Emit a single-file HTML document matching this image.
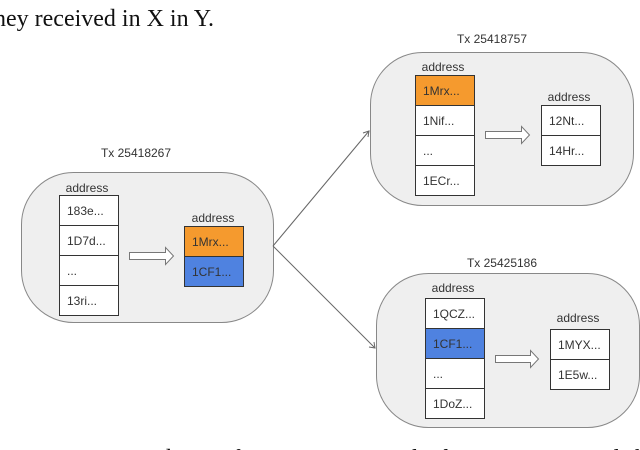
<!DOCTYPE html>
<html><head><style>
html,body{margin:0;padding:0;background:#fff;width:640px;height:450px;overflow:hidden}
svg{display:block}
.s{font-family:"Liberation Sans",sans-serif;font-size:12px;fill:#333}
.c{font-family:"Liberation Serif",serif;font-size:24px;fill:#111}
</style></head><body>
<svg width="640" height="450" viewBox="0 0 640 450">
<text class="c" x="-6" y="26">ney received in X in Y.</text>
<text class="c" x="31" y="466">Figure 2: A subtree of Transaction Graph: the transaction on left</text>

<g stroke="#888" stroke-width="1" fill="#efefef">
<rect x="21.5" y="172.5" width="252" height="150" rx="52" ry="52"/>
<rect x="370.5" y="52.5" width="263" height="153" rx="52" ry="52"/>
<rect x="376.5" y="273.5" width="263" height="154" rx="52" ry="52"/>
</g>

<g stroke="#666" stroke-width="1" fill="none">
<line x1="273" y1="246" x2="369" y2="131"/>
<polyline points="363,133 369,131 368,137"/>
<line x1="273" y1="246" x2="375" y2="348"/>
<polyline points="369,347 375,348 374,342"/>
</g>

<g class="s" text-anchor="middle">
<text x="136" y="157">Tx 25418267</text>
<text x="492" y="43">Tx 25418757</text>
<text x="502" y="267">Tx 25425186</text>
<text x="87" y="192">address</text>
<text x="213" y="222">address</text>
<text x="443" y="71">address</text>
<text x="569" y="101">address</text>
<text x="453" y="292">address</text>
<text x="578" y="322">address</text>
</g>

<g stroke="#333" stroke-width="1">
<rect x="59.5" y="195.5" width="59" height="120" fill="#fff"/>
<line x1="59" y1="225.5" x2="118" y2="225.5"/><line x1="59" y1="255.5" x2="118" y2="255.5"/><line x1="59" y1="285.5" x2="118" y2="285.5"/>
<rect x="184.5" y="226.5" width="59" height="30" fill="#f59a2e"/>
<rect x="184.5" y="256.5" width="59" height="30" fill="#4f82e0"/>
<rect x="415.5" y="75.5" width="59" height="120" fill="#fff"/>
<rect x="415.5" y="75.5" width="59" height="30" fill="#f59a2e"/>
<line x1="415" y1="135.5" x2="474" y2="135.5"/><line x1="415" y1="165.5" x2="474" y2="165.5"/>
<rect x="541.5" y="105.5" width="59" height="60" fill="#fff"/>
<line x1="541" y1="135.5" x2="600" y2="135.5"/>
<rect x="425.5" y="298.5" width="59" height="120" fill="#fff"/>
<rect x="425.5" y="328.5" width="59" height="30" fill="#4f82e0"/>
<line x1="425" y1="388.5" x2="484" y2="388.5"/>
<rect x="550.5" y="329.5" width="59" height="60" fill="#fff"/>
<line x1="550" y1="359.5" x2="609" y2="359.5"/>
</g>

<g fill="#fff" stroke="#777" stroke-width="1">
<polygon points="129.5,252.5 165.5,252.5 165.5,247.5 173.5,256 165.5,264.5 165.5,259.5 129.5,259.5"/>
<polygon points="485.5,131.5 521.5,131.5 521.5,126.5 529.5,135 521.5,143.5 521.5,138.5 485.5,138.5"/>
<polygon points="495.5,355.5 530.5,355.5 530.5,350.5 538.5,359 530.5,367.5 530.5,362.5 495.5,362.5"/>
</g>

<g class="s">
<text x="67" y="215">183e...</text>
<text x="67" y="245">1D7d...</text>
<text x="67" y="275">...</text>
<text x="67" y="305">13ri...</text>
<text x="192" y="246">1Mrx...</text>
<text x="192" y="276">1CF1...</text>
<text x="423" y="95">1Mrx...</text>
<text x="423" y="125">1Nif...</text>
<text x="423" y="155">...</text>
<text x="423" y="185">1ECr...</text>
<text x="549" y="125">12Nt...</text>
<text x="549" y="155">14Hr...</text>
<text x="433" y="318">1QCZ...</text>
<text x="433" y="348">1CF1...</text>
<text x="433" y="378">...</text>
<text x="433" y="408">1DoZ...</text>
<text x="558" y="349">1MYX...</text>
<text x="558" y="379">1E5w...</text>
</g>
</svg>
</body></html>
